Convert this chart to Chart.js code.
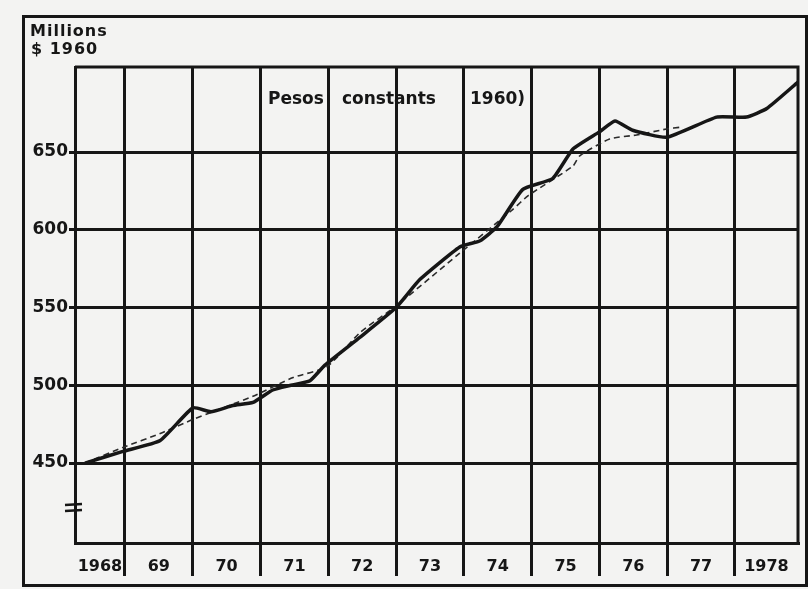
<!DOCTYPE html>
<html>
<head>
<meta charset="utf-8">
<script src="https://cdn.jsdelivr.net/npm/chart.js@4.4.1/dist/chart.umd.min.js"></script>
<style>
  html, body { margin: 0; padding: 0; background: #f3f3f2; }
  #wrap { width: 808px; height: 589px; position: relative; }
</style>
</head>
<body>
<div id="wrap"><canvas id="mainChart"></canvas></div>
<script>
// year labels under the plot and where each year starts
const yearStarts = [1968, 1969, 1970, 1971, 1972, 1973, 1974, 1975, 1976, 1977, 1978]
const yearLabels = ['1968', '69', '70', '71', '72', '73', '74', '75', '76', '77', '1978']
const yTicks = [450, 500, 550, 600, 650]

// actual series (solid line), millions of 1960 pesos
const solidYears = [1968.41, 1968.97, 1969.52, 1970.0, 1970.27, 1970.59, 1970.89, 1971.18, 1971.45, 1971.73,
  1971.95, 1972.47, 1973.0, 1973.35, 1973.94, 1974.24, 1974.49, 1974.87, 1975.31, 1975.61,
  1976.0, 1976.23, 1976.49, 1976.99, 1977.73, 1978.17, 1978.47, 1978.93]
const solidValues = [450, 457.5, 464.5, 485.5, 483, 487, 489, 497, 500, 503,
  513, 531, 550, 568, 589, 593, 602, 626, 633, 652,
  663, 670, 664, 659.5, 672.5, 672.5, 678, 695]

// trend (dashed line)
const trendYears = [1968.41, 1968.97, 1969.52, 1970.0, 1970.89, 1971.48, 1971.98, 1972.47, 1973.0, 1973.94,
  1974.72, 1974.95, 1975.61, 1975.71, 1976.15, 1976.55, 1976.99, 1977.2]
const trendValues = [450, 460, 469, 478, 493, 505, 512, 534, 551, 585,
  613, 622, 641, 647.6, 658.4, 661, 664.8, 666]

const ink = '#161616'
const font = 'DejaVu Sans'

const toPoints = (xs, ys) => xs.map((x, i) => ({ x: x, y: ys[i] }))

const decorations = {
  id: 'decorations',
  beforeDatasetsDraw(chart) {
    const { ctx, chartArea } = chart
    ctx.save()
    ctx.strokeStyle = ink
    // top and right edge of the plot box
    ctx.lineWidth = 3
    ctx.beginPath()
    ctx.moveTo(chartArea.left, chartArea.top)
    ctx.lineTo(chartArea.right, chartArea.top)
    ctx.lineTo(chartArea.right, chartArea.bottom)
    ctx.stroke()
    ctx.restore()
  },
  afterDraw(chart) {
    const { ctx, chartArea, scales } = chart
    const x = scales.x
    ctx.save()
    ctx.strokeStyle = ink
    ctx.fillStyle = ink

    // outer frame
    ctx.lineWidth = 3
    ctx.strokeRect(23.5, 16.5, 783, 569)

    // axis break mark
    ctx.lineWidth = 2.5
    ctx.beginPath()
    ctx.moveTo(65, 505)
    ctx.lineTo(82, 504)
    ctx.moveTo(65, 511)
    ctx.lineTo(82, 510)
    ctx.stroke()

    // unit label
    ctx.font = `bold 16px "${font}"`
    ctx.textBaseline = 'top'
    ctx.textAlign = 'left'
    ctx.letterSpacing = '1px'
    ctx.fillText('Millions', 30, 24)
    ctx.fillText('$ 1960', 31, 42)
    ctx.letterSpacing = '0px'

    // subtitle inside plot
    ctx.font = `bold 17px "${font}"`
    ctx.textBaseline = 'middle'
    ctx.fillText('Pesos', 268, 100)
    ctx.fillText('constants', 342, 100)
    ctx.fillText('1960)', 470, 100)

    // year labels centred in each visible year band
    ctx.font = `bold 16px "${font}"`
    ctx.textAlign = 'center'
    yearStarts.forEach((yr, i) => {
      const a = Math.max(yr, x.min)
      const b = Math.min(yr + 1, x.max)
      const px = (x.getPixelForValue(a) + x.getPixelForValue(b)) / 2
      ctx.fillText(yearLabels[i], px, 567)
    })
    ctx.restore()
  },
}

new Chart(document.getElementById('mainChart'), {
  type: 'line',
  data: {
    datasets: [
      {
        label: 'Pesos constants 1960',
        data: toPoints(solidYears, solidValues),
        borderColor: ink,
        borderWidth: 3.5,
        pointRadius: 0,
        tension: 0.15,
        borderJoinStyle: 'round',
      },
      {
        label: 'Tendance',
        data: toPoints(trendYears, trendValues),
        borderColor: '#2a2a2a',
        borderWidth: 1.6,
        borderDash: [6, 4],
        pointRadius: 0,
        tension: 0.2,
      },
    ],
  },
  options: {
    responsive: true,
    maintainAspectRatio: false,
    animation: false,
    layout: { padding: { left: 0, top: 67, right: 10, bottom: 0 } },
    plugins: {
      legend: { display: false },
      tooltip: { enabled: false },
    },
    scales: {
      x: {
        type: 'linear',
        min: 1968.263,
        max: 1978.93,
        afterBuildTicks: (scale) => {
          scale.ticks = yearStarts.slice(1).map((v) => ({ value: v }))
        },
        afterFit: (scale) => { scale.height = 46 },
        ticks: { callback: () => '' },
        grid: { color: ink, lineWidth: 3, tickLength: 33, drawTicks: true },
        border: { display: true, color: ink, width: 3 },
      },
      y: {
        min: 398.6,
        max: 704.7,
        afterBuildTicks: (scale) => {
          scale.ticks = yTicks.map((v) => ({ value: v }))
        },
        afterFit: (scale) => { scale.width = 75 },
        ticks: {
          color: ink,
          padding: 1,
          font: { family: font, size: 17, weight: 'bold' },
        },
        grid: { color: ink, lineWidth: 3, tickLength: 6 },
        border: { display: true, color: ink, width: 3 },
      },
    },
  },
  plugins: [decorations],
})
</script>
</body>
</html>
